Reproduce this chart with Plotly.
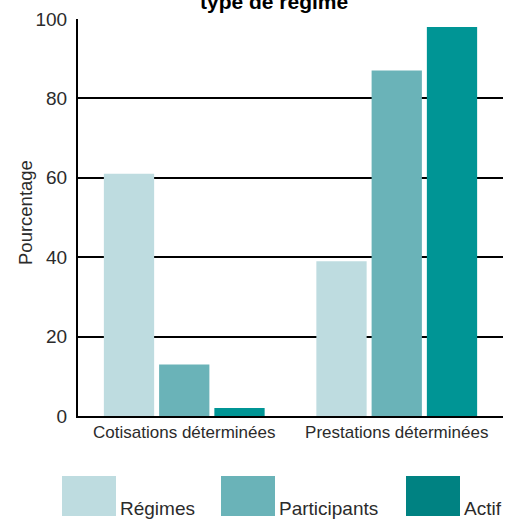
import plotly.graph_objects as go

# Pension plan types and the share (%) of plans, participants and assets in each
categories = ["Cotisations déterminées", "Prestations déterminées"]
regimes = [61, 39]
participants = [13, 87]
actif = [2, 98]

series_names = ["Régimes", "Participants", "Actif"]
bar_colors = ["#BEDCE0", "#6AB3B8", "#009595"]
legend_colors = ["#BEDCE0", "#6AB3B8", "#008282"]

y_ticks = [0, 20, 40, 60, 80, 100]

FONT = "Liberation Sans, Arial, Helvetica, sans-serif"
TEXT = "#2b2b2b"

fig = go.Figure()
for name, vals, col in zip(series_names, [regimes, participants, actif], bar_colors):
    fig.add_trace(go.Bar(
        name=name, x=categories, y=vals,
        marker=dict(color=col, line=dict(width=0)),
        showlegend=False,
    ))

W, H = 507, 520
ml, mr, mt, mb = 78, 4, 19, 104

fig.update_layout(
    width=W, height=H,
    margin=dict(l=ml, r=mr, t=mt, b=mb),
    paper_bgcolor="white", plot_bgcolor="white",
    barmode="group", bargap=0.22, bargroupgap=0.09,
    font=dict(family=FONT, color=TEXT, size=16),
    xaxis=dict(
        showgrid=False, showline=True, linecolor="black", linewidth=2,
        ticks="", tickfont=dict(size=17, color=TEXT),
    ),
    yaxis=dict(
        range=[0, 100], tickvals=y_ticks, showgrid=True,
        gridcolor="black", gridwidth=2, showline=True,
        linecolor="black", linewidth=2, ticks="", zeroline=False,
        tickfont=dict(size=19, color=TEXT), ticklabelstandoff=5,
    ),
)

plot_w = W - ml - mr
plot_h = H - mt - mb
def px_x(px):
    return (px - ml) / plot_w
def px_y(py):
    return (H - mb - py) / plot_h

# Y-axis title
fig.add_annotation(
    text="Pourcentage", xref="paper", yref="paper",
    x=px_x(25), y=px_y(213), xanchor="center", yanchor="middle",
    textangle=-90, showarrow=False,
    font=dict(size=18.5, color=TEXT, family=FONT),
)

# Title (second line of a two-line heading)
fig.add_annotation(
    text="<b>type de régime</b>", xref="paper", yref="paper",
    x=px_x(274), y=px_y(15),
    xanchor="center", yanchor="bottom", showarrow=False,
    font=dict(size=21, color="black", family=FONT),
)

# Legend drawn as large swatches with bottom-aligned labels
swatch_x = [62, 221, 406]
for name, col, sx in zip(series_names, legend_colors, swatch_x):
    fig.add_shape(
        type="rect", xref="paper", yref="paper",
        x0=px_x(sx), x1=px_x(sx + 54), y0=px_y(516), y1=px_y(476),
        fillcolor=col, line=dict(width=0), layer="above",
    )
    fig.add_annotation(
        text=name, xref="paper", yref="paper",
        x=px_x(sx + 56), y=px_y(521), xanchor="left", yanchor="bottom",
        showarrow=False, font=dict(size=19, color=TEXT, family=FONT),
    )

fig.write_html("out.html")
